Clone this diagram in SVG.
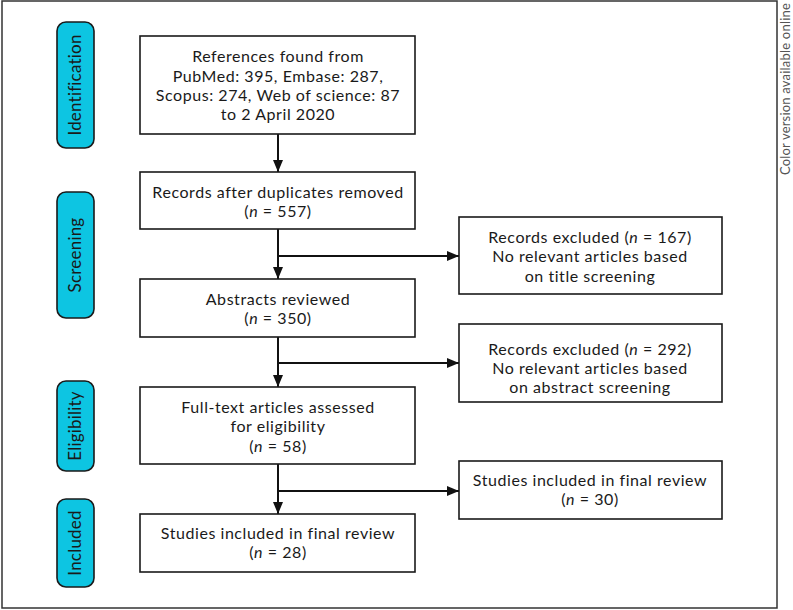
<svg xmlns="http://www.w3.org/2000/svg" width="793" height="610" viewBox="0 0 793 610">
<style>
text{font-family:Lato,"Open Sans","DejaVu Sans",sans-serif;font-size:16px;letter-spacing:0.55px;fill:#1a1a1a;text-anchor:middle}
.box{fill:#fff;stroke:#1a1a1a;stroke-width:1.6}
.phase{fill:#0dc5e2;stroke:#1a1a1a;stroke-width:1.6}
.ph{font-size:17px;letter-spacing:0.2px}
.conn{fill:none;stroke:#111;stroke-width:2}
.note{font-size:13px;letter-spacing:0.2px;fill:#555;text-anchor:end}
</style>
<defs>
<marker id="ah" viewBox="0 0 12 10" refX="12" refY="5" markerWidth="12" markerHeight="10" markerUnits="userSpaceOnUse" orient="auto">
<path d="M0,0 L12,5 L0,10 Z" fill="#111"/>
</marker>
</defs>
<rect x="2" y="1" width="775" height="607" fill="#fff" stroke="#333" stroke-width="1.5"/>
<text class="note" transform="translate(790,3) rotate(-90)">Color version available online</text>

<g id="phase-identification"><rect class="phase" x="57" y="22" width="37" height="126" rx="9"/><text class="ph" transform="translate(81,85) rotate(-90)">Identification</text></g>
<g id="phase-screening"><rect class="phase" x="57" y="192" width="37" height="126" rx="9"/><text class="ph" transform="translate(81,255) rotate(-90)">Screening</text></g>
<g id="phase-eligibility"><rect class="phase" x="57" y="381" width="37" height="90" rx="9"/><text class="ph" transform="translate(81,426) rotate(-90)">Eligibility</text></g>
<g id="phase-included"><rect class="phase" x="57" y="499" width="37" height="88" rx="9"/><text class="ph" transform="translate(81,543) rotate(-90)">Included</text></g>

<g id="connectors">
<line class="conn" x1="278" y1="134" x2="278" y2="172" marker-end="url(#ah)"/>
<line class="conn" x1="278" y1="229" x2="278" y2="279" marker-end="url(#ah)"/>
<line class="conn" x1="278" y1="256" x2="459" y2="256" marker-end="url(#ah)"/>
<line class="conn" x1="278" y1="337" x2="278" y2="387" marker-end="url(#ah)"/>
<line class="conn" x1="278" y1="363" x2="459" y2="363" marker-end="url(#ah)"/>
<line class="conn" x1="278" y1="464" x2="278" y2="514" marker-end="url(#ah)"/>
<line class="conn" x1="278" y1="491" x2="459" y2="491" marker-end="url(#ah)"/>
</g>

<g id="references-found"><rect class="box" x="140" y="36" width="275" height="98"/>
<text x="278" y="62">References found from</text>
<text x="278" y="82">PubMed: 395, Embase: 287,</text>
<text x="278" y="101">Scopus: 274, Web of science: 87</text>
<text x="278" y="120">to 2 April 2020</text></g>

<g id="records-after-duplicates"><rect class="box" x="140" y="172" width="275" height="57"/>
<text x="278" y="198">Records after duplicates removed</text>
<text x="278" y="217">(<tspan font-style="italic">n</tspan> = 557)</text></g>

<g id="abstracts-reviewed"><rect class="box" x="140" y="279" width="275" height="58"/>
<text x="278" y="305">Abstracts reviewed</text>
<text x="278" y="324">(<tspan font-style="italic">n</tspan> = 350)</text></g>

<g id="full-text-assessed"><rect class="box" x="140" y="387" width="275" height="77"/>
<text x="278" y="413">Full-text articles assessed</text>
<text x="278" y="432">for eligibility</text>
<text x="278" y="452">(<tspan font-style="italic">n</tspan> = 58)</text></g>

<g id="studies-included-28"><rect class="box" x="140" y="514" width="275" height="58"/>
<text x="278" y="539">Studies included in final review</text>
<text x="278" y="558">(<tspan font-style="italic">n</tspan> = 28)</text></g>

<g id="records-excluded-167"><rect class="box" x="459" y="217" width="263" height="77"/>
<text x="590" y="243">Records excluded (<tspan font-style="italic">n</tspan> = 167)</text>
<text x="590" y="262">No relevant articles based</text>
<text x="590" y="282">on title screening</text></g>

<g id="records-excluded-292"><rect class="box" x="459" y="324" width="263" height="78"/>
<text x="590" y="355">Records excluded (<tspan font-style="italic">n</tspan> = 292)</text>
<text x="590" y="374">No relevant articles based</text>
<text x="590" y="393">on abstract screening</text></g>

<g id="studies-included-30"><rect class="box" x="459" y="461" width="263" height="58"/>
<text x="590" y="486">Studies included in final review</text>
<text x="590" y="505">(<tspan font-style="italic">n</tspan> = 30)</text></g>
</svg>
